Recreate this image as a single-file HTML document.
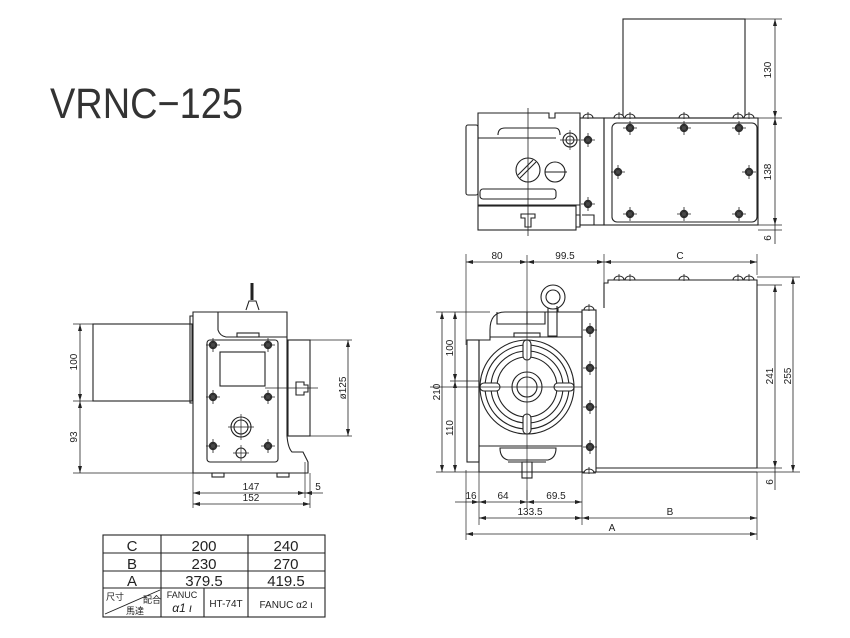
<!DOCTYPE html>
<html><head><meta charset="utf-8"><style>
html,body{margin:0;padding:0;background:#fff;}
svg{display:block;}
text{font-family:"Liberation Sans","Noto Sans CJK JP",sans-serif;fill:#222;}
</style></head><body>
<svg width="850" height="638" viewBox="0 0 850 638" xmlns="http://www.w3.org/2000/svg">
<defs>
<marker id="ar" markerWidth="8" markerHeight="6" refX="7" refY="3" orient="auto-start-reverse" markerUnits="userSpaceOnUse"><path d="M0,1 L7,3 L0,5 Z" fill="#222"/></marker>
<g id="bolt"><circle r="4.2" fill="#333"/><circle r="1.6" fill="#888"/><path d="M-7,0H7M0,-7V7" stroke="#222" stroke-width="0.8"/></g>
<g id="hbolt"><path d="M-5,2 A5,4 0 0 1 5,2 Z" fill="#fff" stroke="#222" stroke-width="1"/><path d="M-7,2H7M0,-4V3" stroke="#222" stroke-width="0.8"/></g>
</defs>
<text x="50" y="118" font-size="43" textLength="193" lengthAdjust="spacingAndGlyphs" style="fill:#333">VRNC−125</text>

<g fill="none" stroke="#222" stroke-width="1.1">
<!-- ===== TOP VIEW ===== -->
<rect x="623" y="19" width="122" height="99"/>
<rect x="604" y="118" width="154" height="107"/>
<rect x="612" y="123" width="145" height="99" rx="5"/>
<rect x="580" y="118" width="24" height="107"/>
<path d="M478,113 H549 V118 H555 V113 H580 V205 H478 Z"/>
<rect x="466" y="125" width="12" height="70" rx="2"/>
<path d="M498,135 Q498,128 505,128 H555 Q560,128 560,135"/>
<path d="M478,138 H556"/>
<rect x="480" y="189" width="76" height="10" rx="3"/>
<rect x="478" y="206" width="98" height="24"/>
<path d="M576,215 H580 V227 H576"/>
<path d="M582,215 H594 V225"/>
<path d="M521,214 H535 V218 H531 V227 H525 V218 H521 Z"/>
<path d="M528,108 V236" stroke-width="0.8"/>
<circle cx="528" cy="170" r="12"/>
<path d="M520,178 L536,162 M518,175 L533,160" />
<circle cx="555" cy="172" r="10"/>
<path d="M545,172 H567"/>
<circle cx="570" cy="140" r="7"/><circle cx="570" cy="140" r="4"/>
<path d="M560,140H580M570,130V150" stroke-width="0.7"/>
<!-- dims top view -->
<path d="M745,19 H782 M758,118 H782 M758,225 H782 M758,230 H782" stroke-width="0.7"/>
<path d="M775,19 V118" marker-start="url(#ar)" marker-end="url(#ar)" stroke-width="0.8"/>
<path d="M775,118 V225" marker-start="url(#ar)" marker-end="url(#ar)" stroke-width="0.8"/>
<path d="M775,225 V244" stroke-width="0.8"/>

<!-- ===== FRONT VIEW ===== -->
<path d="M604,308 V283 H608 V280 H757 V468 H596"/>
<path d="M596,472 H757"/>
<rect x="582" y="310" width="14" height="162"/>
<path d="M479,472 V340 H490 V330 Q490,312 505,312 H582 V472 Z"/>
<rect x="467" y="340" width="12" height="122"/>
<path d="M497,312 V324 H545 V312 M548,312 V336 H557 V306 M527,312 V324"/>
<path d="M490,337 H582"/>
<rect x="514" y="333" width="26" height="4"/>
<circle cx="553" cy="297" r="12"/><circle cx="553" cy="297" r="7"/>
<path d="M548,308 V312 M558,308 V312"/>
<circle cx="527" cy="387" r="47"/>
<circle cx="527" cy="387" r="42"/>
<circle cx="527" cy="387" r="36"/>
<circle cx="527" cy="387" r="30"/>
<circle cx="527" cy="387" r="15"/>
<circle cx="527" cy="387" r="10"/>
<g fill="#fff">
<rect x="523" y="340" width="8" height="20" rx="4"/>
<rect x="523" y="414" width="8" height="20" rx="4"/>
<rect x="480" y="383" width="20" height="8" rx="4"/>
<rect x="554" y="383" width="20" height="8" rx="4"/>
</g>
<path d="M479,446 H582"/>
<path d="M500,448 H556 Q556,458 548,460 H508 Q500,458 500,448 Z"/>
<path d="M508,462 H546"/>
<rect x="522" y="462" width="10" height="16"/>
<path d="M527,255 V500 M430,387 H582" stroke-width="0.7"/>
<!-- front dims -->
<path d="M466,254 V345 M604,254 V300 M757,254 V275" stroke-width="0.7"/>
<path d="M466,262 H527" marker-start="url(#ar)" marker-end="url(#ar)" stroke-width="0.8"/>
<path d="M527,262 H604" marker-start="url(#ar)" marker-end="url(#ar)" stroke-width="0.8"/>
<path d="M604,262 H757" marker-start="url(#ar)" marker-end="url(#ar)" stroke-width="0.8"/>
<path d="M436,312 H490 M436,472 H479 M450,381 H479" stroke-width="0.7"/>
<path d="M442,312 V472" marker-start="url(#ar)" marker-end="url(#ar)" stroke-width="0.8"/>
<path d="M455,312 V381" marker-start="url(#ar)" marker-end="url(#ar)" stroke-width="0.8"/>
<path d="M455,381 V472" marker-start="url(#ar)" marker-end="url(#ar)" stroke-width="0.8"/>
<path d="M757,285 H782 M757,277 H800 M757,468 H782 M757,472 H800" stroke-width="0.7"/>
<path d="M775,285 V468" marker-start="url(#ar)" marker-end="url(#ar)" stroke-width="0.8"/>
<path d="M793,277 V472" marker-start="url(#ar)" marker-end="url(#ar)" stroke-width="0.8"/>
<path d="M775,468 V490" stroke-width="0.8"/>
<path d="M466,470 V540 M479,472 V525 M527,490 V508 M582,472 V525 M757,472 V540" stroke-width="0.7"/>
<path d="M455,502 H479" marker-end="url(#ar)" stroke-width="0.8"/>
<path d="M479,502 H527" marker-start="url(#ar)" marker-end="url(#ar)" stroke-width="0.8"/>
<path d="M527,502 H582" marker-start="url(#ar)" marker-end="url(#ar)" stroke-width="0.8"/>
<path d="M479,518 H582" marker-start="url(#ar)" marker-end="url(#ar)" stroke-width="0.8"/>
<path d="M582,518 H757" marker-start="url(#ar)" marker-end="url(#ar)" stroke-width="0.8"/>
<path d="M466,534 H757" marker-start="url(#ar)" marker-end="url(#ar)" stroke-width="0.8"/>

<!-- ===== SIDE VIEW ===== -->
<rect x="93" y="324" width="99" height="77"/>
<path d="M193,312 H287 V436 Q288,448 292,452 H303 L308,462 V473 H193 Z"/>
<path d="M193,316 H190 V403 H193"/>
<path d="M218,312 V330 Q220,336 226,337 H287"/>
<rect x="237" y="333" width="22" height="4"/>
<rect x="207" y="340" width="71" height="122" rx="3"/>
<rect x="220" y="352" width="45" height="34"/>
<path d="M265,388 H318" stroke-width="0.8"/>
<rect x="288" y="340" width="22" height="96"/>
<path d="M296,382 H304 V385 H308 V392 H304 V395 H296 Z"/>
<path d="M252,283 V300" stroke-width="3"/>
<path d="M246,310 L249,301 H256 L259,310"/>
<circle cx="241" cy="427" r="10"/><circle cx="241" cy="427" r="7"/>
<path d="M228,427H254M241,414V440" stroke-width="0.7"/>
<circle cx="241" cy="453" r="5"/><path d="M233,453H249M241,445V461" stroke-width="0.7"/>
<rect x="212" y="473" width="12" height="4"/><rect x="277" y="473" width="12" height="4"/>
<!-- side dims -->
<path d="M73,324 H93 M73,401 H93 M73,473 H193" stroke-width="0.7"/>
<path d="M80,324 V401" marker-start="url(#ar)" marker-end="url(#ar)" stroke-width="0.8"/>
<path d="M80,401 V473" marker-start="url(#ar)" marker-end="url(#ar)" stroke-width="0.8"/>
<path d="M310,340 H352 M310,436 H352" stroke-width="0.7"/>
<path d="M348,340 V436" marker-start="url(#ar)" marker-end="url(#ar)" stroke-width="0.8"/>
<path d="M193,473 V508 M305,462 V498 M310,473 V508" stroke-width="0.7"/>
<path d="M193,493 H305" marker-start="url(#ar)" marker-end="url(#ar)" stroke-width="0.8"/>
<path d="M305,493 H323" marker-start="url(#ar)" stroke-width="0.8"/>
<path d="M193,504 H310" marker-start="url(#ar)" marker-end="url(#ar)" stroke-width="0.8"/>

<!-- ===== TABLE ===== -->
<rect x="103" y="535" width="222" height="82"/>
<path d="M103,553 H325 M103,571 H325 M103,588 H325 M161,535 V617 M248,535 V617 M204,588 V617"/>
<path d="M105,614 L160,590" stroke-width="0.9"/>
</g>

<!-- bolts -->
<g>
<use href="#bolt" x="630" y="128"/><use href="#bolt" x="684" y="128"/><use href="#bolt" x="739" y="128"/>
<use href="#bolt" x="618" y="172"/><use href="#bolt" x="749" y="172"/>
<use href="#bolt" x="630" y="214"/><use href="#bolt" x="684" y="214"/><use href="#bolt" x="739" y="214"/>
<use href="#bolt" x="588" y="140"/><use href="#bolt" x="588" y="204"/>
<use href="#hbolt" x="588" y="116"/><use href="#hbolt" x="619" y="116"/><use href="#hbolt" x="630" y="116"/>
<use href="#hbolt" x="684" y="116"/><use href="#hbolt" x="738" y="116"/><use href="#hbolt" x="749" y="116"/>
<use href="#bolt" x="590" y="330"/><use href="#bolt" x="590" y="368"/><use href="#bolt" x="590" y="407"/><use href="#bolt" x="590" y="447"/>
<use href="#hbolt" x="589" y="308"/><use href="#hbolt" x="589" y="471"/>
<use href="#hbolt" x="619" y="278"/><use href="#hbolt" x="630" y="278"/><use href="#hbolt" x="684" y="278"/><use href="#hbolt" x="738" y="278"/><use href="#hbolt" x="749" y="278"/>
<use href="#bolt" x="213" y="345"/><use href="#bolt" x="268" y="345"/>
<use href="#bolt" x="213" y="397"/><use href="#bolt" x="268" y="397"/>
<use href="#bolt" x="213" y="446"/><use href="#bolt" x="268" y="446"/>
</g>

<!-- dim texts -->
<g font-size="10">
<text transform="translate(771,70) rotate(-90)" text-anchor="middle">130</text>
<text transform="translate(771,172) rotate(-90)" text-anchor="middle">138</text>
<text transform="translate(771,238) rotate(-90)" text-anchor="middle">6</text>
<text x="497" y="259" text-anchor="middle">80</text>
<text x="565" y="259" text-anchor="middle">99.5</text>
<text x="680" y="259" text-anchor="middle">C</text>
<text transform="translate(440,392) rotate(-90)" text-anchor="middle">210</text>
<text transform="translate(453,348) rotate(-90)" text-anchor="middle">100</text>
<text transform="translate(453,428) rotate(-90)" text-anchor="middle">110</text>
<text transform="translate(773,376) rotate(-90)" text-anchor="middle">241</text>
<text transform="translate(791,376) rotate(-90)" text-anchor="middle">255</text>
<text transform="translate(773,482) rotate(-90)" text-anchor="middle">6</text>
<text x="471" y="499" text-anchor="middle">16</text>
<text x="503" y="499" text-anchor="middle">64</text>
<text x="556" y="499" text-anchor="middle">69.5</text>
<text x="530" y="515" text-anchor="middle">133.5</text>
<text x="670" y="515" text-anchor="middle">B</text>
<text x="612" y="531" text-anchor="middle">A</text>
<text transform="translate(77,362) rotate(-90)" text-anchor="middle">100</text>
<text transform="translate(77,437) rotate(-90)" text-anchor="middle">93</text>
<text transform="translate(346,388) rotate(-90)" text-anchor="middle">ø125</text>
<text x="251" y="490" text-anchor="middle">147</text>
<text x="251" y="501" text-anchor="middle">152</text>
<text x="318" y="490" text-anchor="middle">5</text>
</g>
<g font-size="15">
<text x="132" y="551" text-anchor="middle">C</text><text x="204" y="551" text-anchor="middle">200</text><text x="286" y="551" text-anchor="middle">240</text>
<text x="132" y="569" text-anchor="middle">B</text><text x="204" y="569" text-anchor="middle">230</text><text x="286" y="569" text-anchor="middle">270</text>
<text x="132" y="586" text-anchor="middle">A</text><text x="204" y="586" text-anchor="middle">379.5</text><text x="286" y="586" text-anchor="middle">419.5</text>
</g>
<g font-size="9">
<text x="106" y="600">尺寸</text><text x="143" y="603">配合</text><text x="126" y="614">馬達</text>
<text x="182" y="598" text-anchor="middle">FANUC</text>
<text x="182" y="612" text-anchor="middle" font-size="12" font-style="italic">α1 ι</text>
<text x="226" y="607" text-anchor="middle" font-size="10">HT-74T</text>
<text x="286" y="608" text-anchor="middle" font-size="10">FANUC α2 ι</text>
</g>
</svg>
</body></html>
